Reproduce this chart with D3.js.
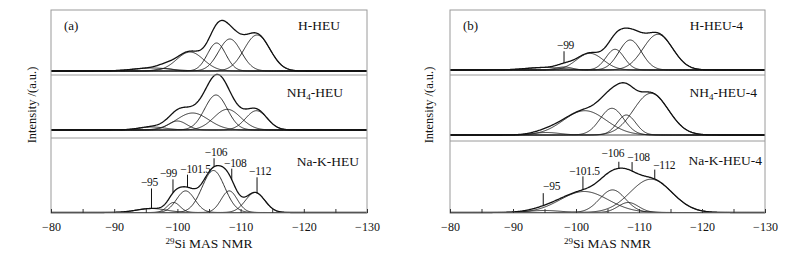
<!DOCTYPE html>
<html>
<head>
<meta charset="utf-8">
<script src="https://cdn.jsdelivr.net/npm/d3@7"></script>
<style>
  body { margin: 0; background: #fff; }
  svg text, svg tspan { font-family: "Liberation Serif", "Times New Roman", serif; fill: #111; }
</style>
</head>
<body>
<svg id="chart" width="790" height="256" font-family="Liberation Serif, serif"></svg>
<script>
// x axis
var ppmDomain = [-80, -130]
var ppmTicks = [-80, -85, -90, -95, -100, -105, -110, -115, -120, -125, -130]

// fitted peaks: [centre (ppm), height (a.u.), fwhm (ppm)]
var hHEU = [[-96, 3, 7], [-98, 2.5, 3], [-102, 19, 5], [-106.2, 28, 3.4], [-108.3, 32, 4.2], [-112.6, 36, 4.8]]
var nh4HEU = [[-96, 3, 5], [-100, 9, 3.5], [-102.4, 17, 6], [-106.1, 35, 4.2], [-107.9, 20.7, 5], [-112.5, 19.3, 4]]
var nakHEU = [[-95.9, 4, 5.5], [-99.4, 10, 2.4], [-101.3, 21.6, 3.4], [-105.7, 42, 4.2], [-108.2, 21.6, 3], [-112.3, 20, 3.6]]
var hHEU4 = [[-95, 2.5, 7], [-98.1, 3, 3], [-102.2, 16.7, 5], [-106.2, 20.7, 3.4], [-108.6, 30, 4.2], [-113, 35.7, 5.5]]
var nh4HEU4 = [[-95.3, 2.5, 5], [-101.4, 24.3, 8], [-105.7, 26.7, 4.4], [-108, 20, 3.5], [-111.9, 41.7, 6.5]]
var nakHEU4 = [[-95, 2, 6], [-101.3, 21, 9], [-105.8, 22.6, 4.8], [-108.3, 10, 3.8], [-111.9, 33.3, 7.8]]

// peak assignments (label text) and where their marker sits on the spectrum
var nakHEULabels = [-95, -99, -101.5, -106, -108, -112]
var nakHEUMarks = [-95.9, -99.3, -101.6, -105.8, -108.6, -112.6]
var hHEU4Labels = [-99]
var hHEU4Marks = [-98.1]
var nakHEU4Labels = [-95, -101.5, -106, -108, -112]
var nakHEU4Marks = [-94.8, -101.1, -106.8, -108.9, -112.5]

var svg = d3.select("#chart")
var grid = d3.range(-80, -130.01, -0.1)

function gauss(p, x) {
    var d = x - p[0]
    return p[1] * Math.exp(-4 * Math.LN2 * d * d / (p[2] * p[2]))
}

var minus = function (v) { return "\u2212" + Math.abs(v) }
var serif = "'Liberation Serif', 'Times New Roman', serif"

// label layout: text offset, leader length, text baseline gap
var layoutA = [{ dx: -2, len: 20, gap: 2 }, { dx: -4.5, len: 13.5, gap: 2 }, { dx: 8, len: 12.5, gap: 2 },
    { dx: 2, len: 8.5, gap: 2 }, { dx: 3.5, len: 11, gap: 2 }, { dx: 3, len: 15.5, gap: 2 }]
var layoutB1 = [{ dx: 1.5, len: 11.7, gap: 2.6 }]
var layoutB3 = [{ dx: 8.4, len: 12.4, gap: 3.3 }, { dx: 1.5, len: 13.3, gap: 1.7 }, { dx: -6, len: 6.6, gap: 5 },
    { dx: 6.5, len: 9, gap: 0.6 }, { dx: 9.5, len: 9.4, gap: 0.6 }]

var panels = [
    {
        left: 51, right: 367, top: 10, bottom: 213, seps: [75, 138], tag: "(a)", tagX: 64, ylabX: 36,
        subs: [
            { peaks: hHEU, base: 71, name: ["H-HEU"], nameX: 340, nameY: 29.5 },
            { peaks: nh4HEU, base: 130, name: ["NH", "4", "-HEU"], nameX: 343, nameY: 96.5 },
            { peaks: nakHEU, base: 212.5, name: ["Na-K-HEU"], nameX: 359, nameY: 165.5,
              labels: nakHEULabels, marks: nakHEUMarks, layout: layoutA }
        ]
    },
    {
        left: 450, right: 765, top: 10, bottom: 213, seps: [75, 141], tag: "(b)", tagX: 463, ylabX: 433,
        subs: [
            { peaks: hHEU4, base: 70, name: ["H-HEU-4"], nameX: 743, nameY: 29.5,
              labels: hHEU4Labels, marks: hHEU4Marks, layout: layoutB1 },
            { peaks: nh4HEU4, base: 135, name: ["NH", "4", "-HEU-4"], nameX: 757, nameY: 97 },
            { peaks: nakHEU4, base: 212.5, name: ["Na-K-HEU-4"], nameX: 762, nameY: 165,
              labels: nakHEU4Labels, marks: nakHEU4Marks, layout: layoutB3 }
        ]
    }
]

panels.forEach(function (pn) {
    var g = svg.append("g")
    var x = d3.scaleLinear().domain(ppmDomain).range([pn.left, pn.right])

    pn.subs.forEach(function (s) {
        var y = d3.scaleLinear().domain([0, 50]).range([s.base, s.base - 50])
        var line = d3.line().x(function (d) { return x(d[0]) }).y(function (d) { return y(d[1]) })

        var comps = s.peaks.map(function (p) {
            return grid.map(function (v) { return [v, gauss(p, v)] })
        })
        var envelope = grid.map(function (v) {
            return [v, d3.sum(s.peaks, function (p) { return gauss(p, v) })]
        })

        g.selectAll(null).data(comps).enter().append("path")
            .attr("d", line)
            .attr("fill", "none")
            .attr("stroke", "#1a1a1a")
            .attr("stroke-width", 0.9)
        g.append("path")
            .attr("d", line(envelope))
            .attr("fill", "none")
            .attr("stroke", "#111")
            .attr("stroke-width", 1.3)

        // sample name
        var t = g.append("text")
            .attr("x", s.nameX).attr("y", s.nameY)
            .attr("text-anchor", "end")
            .style("font-family", serif)
            .style("font-size", "13.5px")
        t.append("tspan").text(s.name[0])
        if (s.name.length > 1) {
            t.append("tspan").text(s.name[1]).style("font-size", "9px").attr("dy", 3)
            t.append("tspan").text(s.name[2]).attr("dy", -3)
        }

        // peak assignments
        if (s.labels) {
            s.labels.forEach(function (lab, i) {
                var m = s.marks[i]
                var lo = s.layout[i]
                var yEnv = y(d3.sum(s.peaks, function (p) { return gauss(p, m) }))
                var yTop = yEnv - lo.len
                g.append("line")
                    .attr("x1", x(m)).attr("x2", x(m))
                    .attr("y1", yTop).attr("y2", yEnv)
                    .attr("stroke", "#111").attr("stroke-width", 1)
                g.append("text")
                    .attr("x", x(m) + lo.dx).attr("y", yTop - lo.gap)
                    .attr("text-anchor", "middle")
                    .style("font-family", serif)
                    .style("font-size", "11.5px")
                    .style("letter-spacing", "-0.3px")
                    .text(minus(lab))
            })
        }
    })

    // frame and separators
    g.append("rect")
        .attr("x", pn.left).attr("y", pn.top)
        .attr("width", pn.right - pn.left).attr("height", pn.bottom - pn.top)
        .attr("fill", "none").attr("stroke", "#9a9a9a").attr("stroke-width", 1)
    pn.seps.forEach(function (sy) {
        g.append("line")
            .attr("x1", pn.left).attr("x2", pn.right)
            .attr("y1", sy).attr("y2", sy)
            .attr("stroke", "#9a9a9a").attr("stroke-width", 1)
    })

    var xAxis = d3.axisBottom(x)
        .tickValues(ppmTicks)
        .tickSize(-4)
        .tickPadding(9)
        .tickFormat(function (d) { return d % 10 === 0 ? minus(d) : "" })
    var ax = g.append("g")
        .attr("transform", "translate(0," + pn.bottom + ")")
        .call(xAxis)
    ax.attr("font-family", null).attr("font-size", null)
    ax.select(".domain").remove()
    ax.selectAll(".tick line").attr("stroke", "#333")
    ax.selectAll(".tick text").style("font-size", "12px").style("font-family", serif).attr("fill", "#111")

    // axis titles
    var xt = g.append("text")
        .attr("x", (pn.left + pn.right) / 2).attr("y", 248)
        .attr("text-anchor", "middle")
        .style("font-family", serif)
        .style("font-size", "13.5px")
    xt.append("tspan").text("29").style("font-size", "9px").attr("dy", -4)
    xt.append("tspan").text("Si MAS NMR").attr("dy", 4)

    g.append("text")
        .attr("transform", "translate(" + pn.ylabX + ",105) rotate(-90)")
        .attr("text-anchor", "middle")
        .style("font-family", serif)
        .style("font-size", "12.5px")
        .text("Intensity /(a.u.)")

    g.append("text")
        .attr("x", pn.tagX).attr("y", 29.5)
        .style("font-family", serif)
        .style("font-size", "13px")
        .text(pn.tag)
})
</script>
</body>
</html>
